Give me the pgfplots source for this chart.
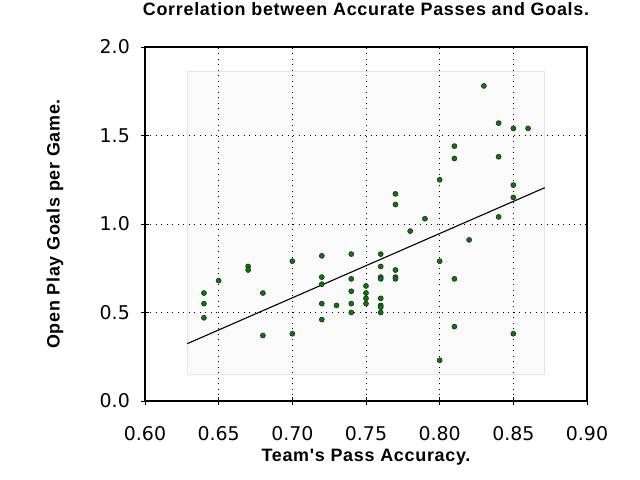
\documentclass[border=0pt]{standalone}
\usepackage{pgfplots}
\pgfplotsset{compat=1.18}
\usepackage{fontspec}
\setmainfont{Liberation Sans}
\newfontfamily\dejavu{DejaVu Sans}
\newfontfamily\lab{Liberation Sans}[LetterSpace=4]
\definecolor{ptgreen}{RGB}{0,128,0}
\definecolor{boxfill}{RGB}{248,248,248}
\definecolor{boxedge}{RGB}{228,228,228}
\begin{document}
\begin{tikzpicture}
\path[use as bounding box] (-145bp,-79bp) rectangle (495bp,401bp);
\begin{axis}[
  at={(0,0)}, anchor=south west,
  scale only axis, width=442bp, height=354bp,
  xmin=0.60, xmax=0.90, ymin=0, ymax=2.0,
  xtick={0.60,0.65,0.70,0.75,0.80,0.85,0.90},
  ytick={0,0.5,1.0,1.5,2.0},
  xtick pos=bottom, ytick pos=left,
  tick align=center, major tick length=8bp,
  every tick/.style={black, line width=0.8bp},
  axis line style={line width=1.2bp},
  grid=major,
  major grid style={black, line width=0.6bp, dash pattern=on 1bp off 4.5bp},
  axis on top,
  /pgf/number format/assume math mode=true,
  xticklabel style={font=\dejavu\fontsize{19}{19}\selectfont, inner sep=0pt, anchor=north, yshift=-21bp,
    /pgf/number format/.cd, fixed, fixed zerofill, precision=2},
  yticklabel style={font=\dejavu\fontsize{19}{19}\selectfont, inner sep=0pt, anchor=east, xshift=-11bp,
    /pgf/number format/.cd, fixed, fixed zerofill, precision=1},
  title={Correlation between Accurate Passes and Goals.},
  title style={font=\lab\bfseries\fontsize{18}{18}\selectfont, at={(axis description cs:0.5,1.09)}, anchor=center, inner sep=0pt},
  xlabel={Team's Pass Accuracy.},
  xlabel style={font=\lab\bfseries\fontsize{18}{18}\selectfont, at={(axis description cs:0.5,-0.1575)}, anchor=center, inner sep=0pt},
  ylabel={Open Play Goals per Game.},
  ylabel style={font=\lab\bfseries\fontsize{18}{18}\selectfont, at={(axis description cs:-0.2036,0.5)}, anchor=center, inner sep=0pt, rotate=0},
]
\addplot[draw=boxedge, fill=boxfill, line width=0.8bp, fill opacity=0.75] coordinates {
  (0.629,0.153) (0.871,0.153) (0.871,1.863) (0.629,1.863) (0.629,0.153)};
\addplot[black, line width=1.1bp] coordinates {(0.6287,0.324) (0.8713,1.205)};
\addplot[only marks, mark=*, mark size=2.5bp, mark options={fill=ptgreen, draw=black!85, line width=0.6bp}] coordinates {
(0.64,0.61) (0.64,0.55) (0.64,0.47)
(0.65,0.68)
(0.67,0.76) (0.67,0.74)
(0.68,0.61) (0.68,0.37)
(0.70,0.79) (0.70,0.38)
(0.72,0.82) (0.72,0.70) (0.72,0.66) (0.72,0.55) (0.72,0.46)
(0.73,0.54)
(0.74,0.83) (0.74,0.69) (0.74,0.62) (0.74,0.55) (0.74,0.50)
(0.75,0.65) (0.75,0.61) (0.75,0.58) (0.75,0.55)
(0.76,0.83) (0.76,0.76) (0.76,0.70) (0.76,0.69) (0.76,0.58) (0.76,0.54) (0.76,0.53) (0.76,0.50)
(0.77,1.17) (0.77,1.11) (0.77,0.74) (0.77,0.70) (0.77,0.69)
(0.78,0.96)
(0.79,1.03)
(0.80,1.25) (0.80,0.79) (0.80,0.23)
(0.81,1.44) (0.81,1.37) (0.81,0.69) (0.81,0.42)
(0.82,0.91)
(0.83,1.78)
(0.84,1.57) (0.84,1.38) (0.84,1.04)
(0.85,1.54) (0.85,1.22) (0.85,1.15) (0.85,0.38)
(0.86,1.54)
};
\end{axis}
\end{tikzpicture}
\end{document}
